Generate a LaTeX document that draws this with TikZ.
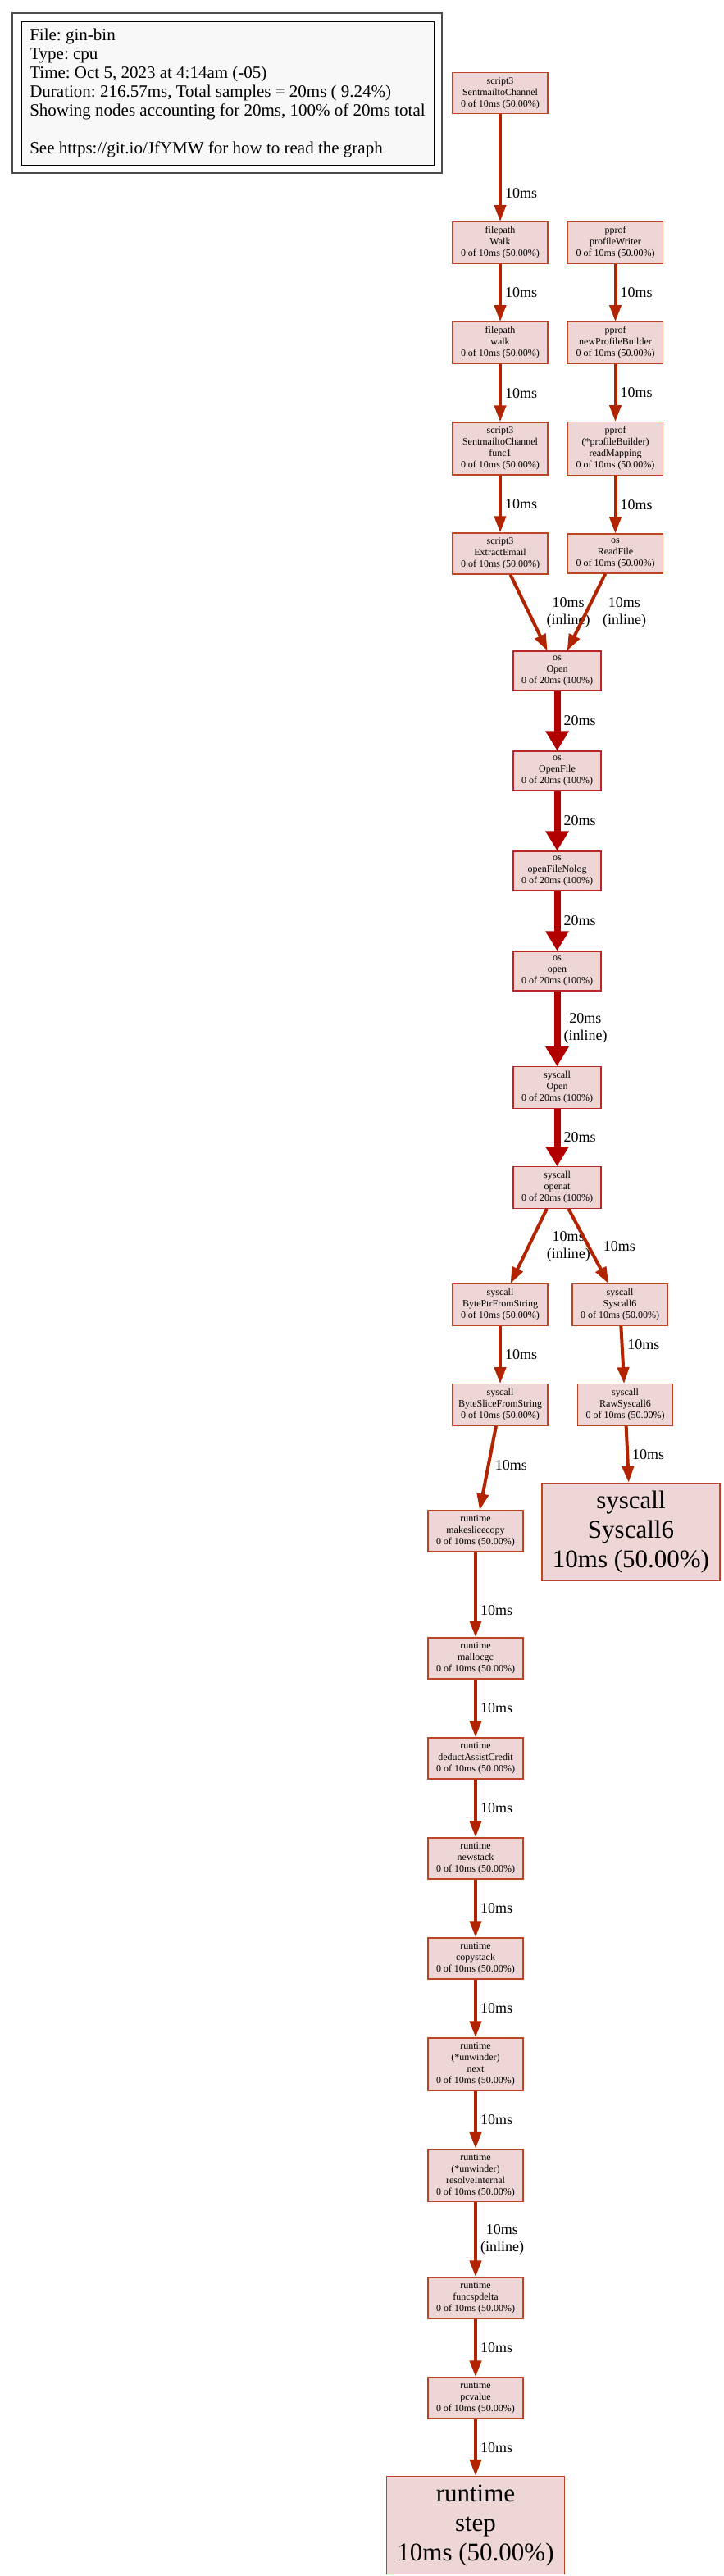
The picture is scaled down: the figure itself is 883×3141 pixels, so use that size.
\documentclass[tikz,border=0pt]{standalone}
\usepackage{fontspec}
\setmainfont{Liberation Serif}
\usetikzlibrary{positioning}
\usetikzlibrary{arrows.meta}

\definecolor{warm}{HTML}{B22300}
\definecolor{hot}{HTML}{B20000}
\definecolor{boxfill}{HTML}{EDD6D5}
\definecolor{paper}{HTML}{F8F8F8}

\begin{document}
\begin{tikzpicture}[x=1pt,y=-1pt,auto,node distance=122pt,
	fn/.style={rectangle,draw=warm!85!white,line width=1.3pt,fill=boxfill,align=center,minimum width=116pt,inner xsep=7pt,inner ysep=5.8pt,font=\fontsize{12}{14}\selectfont},
	hot fn/.style={fn,draw=hot!85!white,minimum width=107pt},
	big fn/.style={fn,minimum width=217pt,minimum height=119pt,font=\fontsize{31}{36}\selectfont},
	cost/.style={draw=warm,line width=4pt,-{Triangle[length=20pt,width=14pt]}},
	hot cost/.style={draw=hot,line width=8pt,-{Triangle[length=24pt,width=27pt]}}]

	\useasboundingbox (0,0) rectangle (883,3141);

	%the legend in the upper left corner
	\begin{scope}
		\node[draw=black,line width=0.8pt,fill=paper,minimum width=503pt,minimum height=174.5pt,align=left,font=\fontsize{21}{23}\selectfont\frenchspacing] (legend) at (277.5,113.75) {File: gin-bin\\Type: cpu\\Time: Oct 5, 2023 at 4:14am (-05)\\Duration: 216.57ms, Total samples = 20ms ( 9.24\%)\\Showing nodes accounting for 20ms, 100\% of 20ms total\\[23pt]See https://git.io/JfYMW for how to read the graph};
		\draw[gray!60!black, line width=2pt] ([shift={(-10.5,-10.5)}]legend.north west) rectangle ([shift={(10,10)}]legend.south east);
	\end{scope}

	%the two callers on top, down to os.Open
	\begin{scope}
		\node[fn] (1) at (610,113.5) {script3\\SentmailtoChannel\\0 of 10ms (50.00\%)};
		\node[fn] (2) [node distance=182.5pt, below of = 1] {filepath\\Walk\\0 of 10ms (50.00\%)};
		\node[fn] (3) [below of = 2] {filepath\\walk\\0 of 10ms (50.00\%)};
		\node[fn] (4) [node distance=129pt, below of = 3] {script3\\SentmailtoChannel\\func1\\0 of 10ms (50.00\%)};
		\node[fn] (5) [node distance=128pt, below of = 4] {script3\\ExtractEmail\\0 of 10ms (50.00\%)};

		\node[fn] (6) [node distance=140.5pt, right of = 2] {pprof\\profileWriter\\0 of 10ms (50.00\%)};
		\node[fn] (7) [below of = 6] {pprof\\newProfileBuilder\\0 of 10ms (50.00\%)};
		\node[fn] (8) [node distance=129pt, below of = 7] {pprof\\(*profileBuilder)\\readMapping\\0 of 10ms (50.00\%)};
		\node[fn] (9) [node distance=128pt, below of = 8] {os\\ReadFile\\0 of 10ms (50.00\%)};
	\end{scope}

	%the hot path, 20ms all the way
	\begin{scope}
		\node[hot fn] (10) [node distance=143pt, below of = 5, xshift=69.5pt] {os\\Open\\0 of 20ms (100\%)};
		\node[hot fn] (11) [below of = 10] {os\\OpenFile\\0 of 20ms (100\%)};
		\node[hot fn] (12) [below of = 11] {os\\openFileNolog\\0 of 20ms (100\%)};
		\node[hot fn] (13) [below of = 12] {os\\open\\0 of 20ms (100\%)};
		\node[hot fn] (14) [node distance=142pt, below of = 13] {syscall\\Open\\0 of 20ms (100\%)};
		\node[hot fn] (15) [below of = 14] {syscall\\openat\\0 of 20ms (100\%)};
	\end{scope}

	%it splits in two again below openat
	\begin{scope}
		\node[fn] (16) [node distance=143pt, below of = 15, xshift=-69.5pt] {syscall\\BytePtrFromString\\0 of 10ms (50.00\%)};
		\node[fn] (17) [node distance=146pt, right of = 16] {syscall\\Syscall6\\0 of 10ms (50.00\%)};
		\node[fn] (18) [below of = 16] {syscall\\ByteSliceFromString\\0 of 10ms (50.00\%)};
		\node[fn] (19) [below of = 17, xshift=6.5pt] {syscall\\RawSyscall6\\0 of 10ms (50.00\%)};
		\node[big fn] (20) [node distance=155pt, below of = 19, xshift=7pt] {syscall\\Syscall6\\10ms (50.00\%)};

		\node[fn] (21) [node distance=154pt, below of = 18, xshift=-30pt] {runtime\\makeslicecopy\\0 of 10ms (50.00\%)};
		\node[fn] (22) [node distance=155pt, below of = 21] {runtime\\mallocgc\\0 of 10ms (50.00\%)};
		\node[fn] (23) [below of = 22] {runtime\\deductAssistCredit\\0 of 10ms (50.00\%)};
		\node[fn] (24) [below of = 23] {runtime\\newstack\\0 of 10ms (50.00\%)};
		\node[fn] (25) [below of = 24] {runtime\\copystack\\0 of 10ms (50.00\%)};
		\node[fn] (26) [node distance=129pt, below of = 25] {runtime\\(*unwinder)\\next\\0 of 10ms (50.00\%)};
		\node[fn] (27) [node distance=135.5pt, below of = 26] {runtime\\(*unwinder)\\resolveInternal\\0 of 10ms (50.00\%)};
		\node[fn] (28) [node distance=149.5pt, below of = 27] {runtime\\funcspdelta\\0 of 10ms (50.00\%)};
		\node[fn] (29) [below of = 28] {runtime\\pcvalue\\0 of 10ms (50.00\%)};
		\node[big fn] (30) [node distance=155pt, below of = 29] {runtime\\step\\10ms (50.00\%)};
	\end{scope}

	%the call edges with their sample times
	\path[every node/.style={font=\fontsize{18}{21}\selectfont,inner sep=4pt,align=center}]
		(1) edge[cost] node[pos=0.74] {10ms} (2)
		(2) edge[cost] node {10ms} (3)
		(3) edge[cost] node {10ms} (4)
		(4) edge[cost] node {10ms} (5)
		(6) edge[cost] node {10ms} (7)
		(7) edge[cost] node {10ms} (8)
		(8) edge[cost] node {10ms} (9)
		(5) edge[cost] node[right, xshift=15.5pt] {10ms\\(inline)} (10)
		(9) edge[cost] node[right, xshift=14pt] {10ms\\(inline)} (10)
		(10) edge[hot cost] node {20ms} (11)
		(11) edge[hot cost] node {20ms} (12)
		(12) edge[hot cost] node {20ms} (13)
		(13) edge[hot cost] node {20ms\\(inline)} (14)
		(14) edge[hot cost] node {20ms} (15)
		(15) edge[cost] node[right, xshift=16pt] {10ms\\(inline)} (16)
		(15) edge[cost] node[right, xshift=12pt] {10ms} (17)
		(16) edge[cost] node {10ms} (18)
		(17) edge[cost] node {10ms} (19)
		(18) edge[cost] node[pos=0.35] {10ms} (21)
		(19) edge[cost] node {10ms} (20)
		(21) edge[cost] node[pos=0.68] {10ms} (22)
		(22) edge[cost] node {10ms} (23)
		(23) edge[cost] node {10ms} (24)
		(24) edge[cost] node {10ms} (25)
		(25) edge[cost] node {10ms} (26)
		(26) edge[cost] node {10ms} (27)
		(27) edge[cost] node {10ms\\(inline)} (28)
		(28) edge[cost] node {10ms} (29)
		(29) edge[cost] node {10ms} (30);
\end{tikzpicture}
\end{document}
